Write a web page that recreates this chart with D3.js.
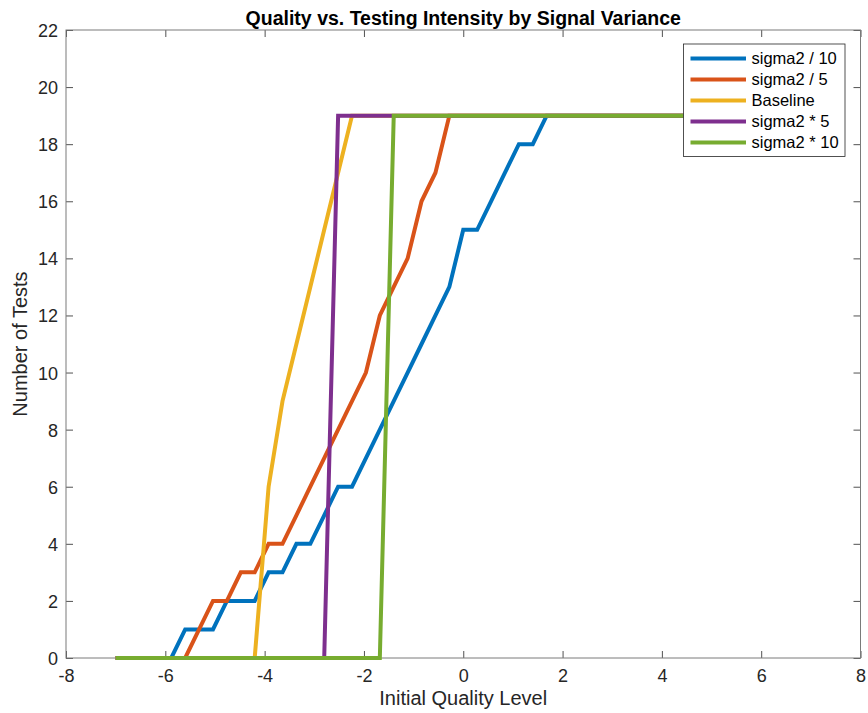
<!DOCTYPE html>
<html>
<head>
<meta charset="utf-8">
<script src="https://cdn.jsdelivr.net/npm/d3@7"></script>
<style>
  html, body { margin: 0; padding: 0; background: #fff; }
  svg { display: block; font-family: "Liberation Sans", Arial, Helvetica, sans-serif; }
</style>
</head>
<body>
<svg id="chart" width="868" height="713"></svg>
<script>
// Initial quality grid (51 points from -7 to 7)
const quality = [
  -7.00, -6.72, -6.44, -6.16, -5.88, -5.60, -5.32, -5.04, -4.76, -4.48,
  -4.20, -3.92, -3.64, -3.36, -3.08, -2.80, -2.52, -2.24, -1.96, -1.68,
  -1.40, -1.12, -0.84, -0.56, -0.28,  0.00,  0.28,  0.56,  0.84,  1.12,
   1.40,  1.68,  1.96,  2.24,  2.52,  2.80,  3.08,  3.36,  3.64,  3.92,
   4.20,  4.48,  4.76,  5.04,  5.32,  5.60,  5.88,  6.16,  6.44,  6.72,
   7.00
];

// Number of tests for each signal variance setting
const testsDiv10 = [
  0, 0, 0, 0, 0, 1, 1, 1, 2, 2,
  2, 3, 3, 4, 4, 5, 6, 6, 7, 8,
  9, 10, 11, 12, 13, 15, 15, 16, 17, 18,
  18, 19, 19, 19, 19, 19, 19, 19, 19, 19,
  19, 19, 19, 19, 19, 19, 19, 19, 19, 19,
  19
];
const testsDiv5 = [
  0, 0, 0, 0, 0, 0, 1, 2, 2, 3,
  3, 4, 4, 5, 6, 7, 8, 9, 10, 12,
  13, 14, 16, 17, 19, 19, 19, 19, 19, 19,
  19, 19, 19, 19, 19, 19, 19, 19, 19, 19,
  19, 19, 19, 19, 19, 19, 19, 19, 19, 19,
  19
];
const testsBaseline = [
  0, 0, 0, 0, 0, 0, 0, 0, 0, 0,
  0, 6, 9, 11, 13, 15, 17, 19, 19, 19,
  19, 19, 19, 19, 19, 19, 19, 19, 19, 19,
  19, 19, 19, 19, 19, 19, 19, 19, 19, 19,
  19, 19, 19, 19, 19, 19, 19, 19, 19, 19,
  19
];
const testsMul5 = [
  0, 0, 0, 0, 0, 0, 0, 0, 0, 0,
  0, 0, 0, 0, 0, 0, 19, 19, 19, 19,
  19, 19, 19, 19, 19, 19, 19, 19, 19, 19,
  19, 19, 19, 19, 19, 19, 19, 19, 19, 19,
  19, 19, 19, 19, 19, 19, 19, 19, 19, 19,
  19
];
const testsMul10 = [
  0, 0, 0, 0, 0, 0, 0, 0, 0, 0,
  0, 0, 0, 0, 0, 0, 0, 0, 0, 0,
  19, 19, 19, 19, 19, 19, 19, 19, 19, 19,
  19, 19, 19, 19, 19, 19, 19, 19, 19, 19,
  19, 19, 19, 19, 19, 19, 19, 19, 19, 19,
  19
];

const seriesNames = ["sigma2 / 10", "sigma2 / 5", "Baseline", "sigma2 * 5", "sigma2 * 10"];
const seriesValues = [testsDiv10, testsDiv5, testsBaseline, testsMul5, testsMul10];
const seriesColors = ["#0072BD", "#D95319", "#EDB120", "#7E2F8E", "#77AC30"];

const xTicks = [-8, -6, -4, -2, 0, 2, 4, 6, 8];
const yTicks = [0, 2, 4, 6, 8, 10, 12, 14, 16, 18, 20, 22];

const titleText = "Quality vs. Testing Intensity by Signal Variance";
const xLabelText = "Initial Quality Level";
const yLabelText = "Number of Tests";

// Plot area
const plotLeft = 66, plotRight = 860.5, plotTop = 30, plotBottom = 658;
const axisColor = "#262626";

const svg = d3.select("#chart");

const x = d3.scaleLinear().domain([-8, 8]).range([plotLeft, plotRight]);
const y = d3.scaleLinear().domain([0, 22]).range([plotBottom, plotTop]);

// Axes with inward ticks on all four sides
const tickLen = 7;
const gx = svg.append("g").attr("transform", `translate(0,${plotBottom})`)
  .call(d3.axisBottom(x).tickValues(xTicks).tickSizeInner(-tickLen).tickSizeOuter(0).tickPadding(11)
    .tickFormat(d => d < 0 ? "-" + Math.abs(d) : d));
const gxTop = svg.append("g").attr("transform", `translate(0,${plotTop})`)
  .call(d3.axisTop(x).tickValues(xTicks).tickSizeInner(-tickLen).tickSizeOuter(0).tickFormat(""));
const gy = svg.append("g").attr("transform", `translate(${plotLeft},0)`)
  .call(d3.axisLeft(y).tickValues(yTicks).tickSizeInner(-tickLen).tickSizeOuter(0).tickPadding(8));
const gyRight = svg.append("g").attr("transform", `translate(${plotRight},0)`)
  .call(d3.axisRight(y).tickValues(yTicks).tickSizeInner(-tickLen).tickSizeOuter(0).tickFormat(""));

[gx, gxTop, gy, gyRight].forEach(g => {
  g.select(".domain").remove();
  g.selectAll(".tick line").attr("stroke", axisColor).attr("stroke-width", 0.8);
  g.selectAll(".tick text")
    .attr("fill", axisColor)
    .style("font-size", "18px")
    .style("font-family", "\"Liberation Sans\", Arial, Helvetica, sans-serif");
});
gy.selectAll(".tick text").attr("dy", "0.36em");

// Box around the plot area
svg.append("rect")
  .attr("x", plotLeft).attr("y", plotTop)
  .attr("width", plotRight - plotLeft).attr("height", plotBottom - plotTop)
  .attr("fill", "none").attr("stroke", "#7a7a7a").attr("stroke-width", 1);

// Series lines
const line = d3.line()
  .x((d, i) => x(quality[i]))
  .y(d => y(d));

svg.append("g").selectAll("path")
  .data(seriesValues)
  .join("path")
  .attr("d", d => line(d))
  .attr("fill", "none")
  .attr("stroke", (d, i) => seriesColors[i])
  .attr("stroke-width", 4)
  .attr("stroke-linejoin", "miter")
  .attr("stroke-linecap", "butt");

// Title and axis labels
svg.append("text")
  .attr("x", (plotLeft + plotRight) / 2).attr("y", 24.5)
  .attr("text-anchor", "middle")
  .attr("fill", "#000")
  .style("font-size", "19.5px").style("font-weight", "bold")
  .text(titleText);

svg.append("text")
  .attr("x", (plotLeft + plotRight) / 2).attr("y", 705)
  .attr("text-anchor", "middle")
  .attr("fill", axisColor)
  .style("font-size", "20px")
  .text(xLabelText);

svg.append("text")
  .attr("transform", `translate(26.5,${(plotTop + plotBottom) / 2}) rotate(-90)`)
  .attr("text-anchor", "middle")
  .attr("fill", axisColor)
  .style("font-size", "20px")
  .text(yLabelText);

// Legend
const legend = svg.append("g");
const lgX = 683.5, lgY = 44, lgW = 161.5, lgH = 112.5, rowH = 21;
legend.append("rect")
  .attr("x", lgX).attr("y", lgY).attr("width", lgW).attr("height", lgH)
  .attr("fill", "#fff").attr("stroke", axisColor).attr("stroke-width", 0.8);

const rows = legend.selectAll("g.row")
  .data(seriesNames)
  .join("g")
  .attr("class", "row")
  .attr("transform", (d, i) => `translate(0,${lgY + 14.5 + i * rowH})`);

rows.append("line")
  .attr("x1", 690.5).attr("x2", 746)
  .attr("y1", 0).attr("y2", 0)
  .attr("stroke", (d, i) => seriesColors[i])
  .attr("stroke-width", 4);

rows.append("text")
  .attr("x", 751.5).attr("y", 0).attr("dy", "0.36em")
  .attr("fill", "#000")
  .style("font-size", "16.5px")
  .text(d => d);
</script>
</body>
</html>
